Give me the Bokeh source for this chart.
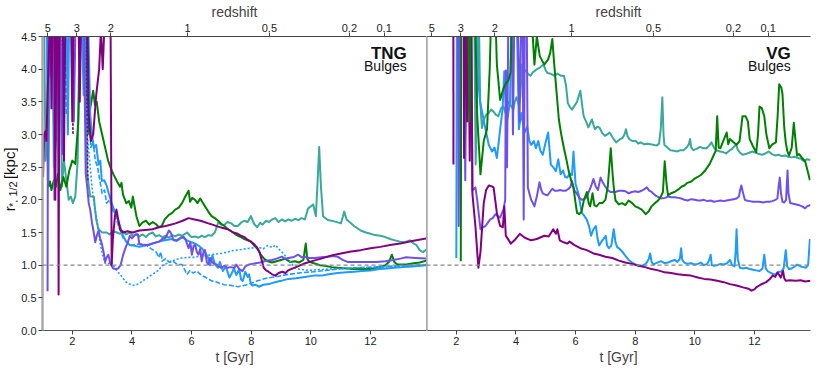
import math
import numpy as np
from bokeh.plotting import figure
from bokeh.models import Range1d, LinearAxis, FixedTicker, Span, Label, PrintfTickFormatter
from bokeh.core.properties import value
from bokeh.layouts import row
from bokeh.embed import file_html
from bokeh.resources import INLINE

# ---------------- data (t [Gyr], r*,1/2 [kpc]) ----------------
TNG_GREEN = [(1.2,2.2),(1.25,2.28),(1.3,2.15),(1.38,2.3),(1.45,2.2),(1.52,2.4),(1.6,2.15),(1.7,2.35),(1.8,2.2),(1.9,2.45),(2.0,2.6),(2.1,2.55),(2.2,3.2),(2.3,5.0),(2.45,5.0),(2.52,3.0),(2.6,3.4),(2.7,3.67),(2.76,3.45),(2.82,3.5),(2.9,3.2),(3.0,3.0),(3.1,2.8),(3.2,2.6),(3.32,2.45),(3.38,2.39),(3.5,2.28),(3.6,2.2),(3.65,2.26),(3.7,2.08),(3.81,1.95),(3.9,1.98),(3.98,1.88),(4.03,2.05),(4.09,1.9),(4.15,1.75),(4.25,1.6),(4.35,1.65),(4.47,1.68),(4.58,1.62),(4.7,1.66),(4.8,1.63),(4.9,1.58),(5.0,1.6),(5.1,1.7),(5.24,1.77),(5.35,1.8),(5.45,1.85),(5.57,1.88),(5.68,1.95),(5.79,2.05),(5.9,2.14),(5.95,1.97),(6.02,2.03),(6.12,2.0),(6.2,1.95),(6.29,2.02),(6.37,1.96),(6.45,1.9),(6.56,1.82),(6.67,1.75),(6.78,1.72),(6.89,1.68),(7.0,1.63),(7.1,1.6),(7.22,1.55),(7.33,1.52),(7.45,1.48),(7.55,1.45),(7.66,1.43),(7.77,1.4),(7.88,1.38),(7.99,1.36),(8.1,1.3),(8.21,1.25),(8.32,1.16),(8.43,1.1),(8.55,1.06),(8.7,1.04),(8.85,1.06),(9.0,1.08),(9.14,1.1),(9.3,1.05),(9.47,1.06),(9.6,1.04),(9.75,1.08),(9.83,1.33),(9.88,1.1),(9.95,1.05),(10.1,1.03),(10.3,1.0),(10.46,0.99),(10.7,0.97),(10.9,0.96),(11.2,0.95),(11.45,0.94),(11.7,0.94),(12.0,0.94),(12.3,0.97),(12.5,1.0),(12.62,1.05),(12.72,1.16),(12.8,1.05),(12.9,1.01),(13.2,1.01),(13.45,1.03),(13.65,1.04),(13.88,1.07)]

TNG_TEAL = [(1.05,5.0),(1.1,2.6),(1.15,3.1),(1.2,2.2),(1.25,5.0),(1.32,5.0),(1.38,2.5),(1.45,2.9),(1.52,5.0),(1.58,5.0),(1.65,2.2),(1.72,2.6),(1.8,2.3),(1.88,2.0),(1.95,2.05),(2.02,1.95),(2.1,2.05),(2.18,2.6),(2.25,5.0),(2.42,5.0),(2.5,2.4),(2.6,2.05),(2.72,2.05),(2.8,1.7),(2.88,1.55),(3.0,1.5),(3.15,1.5),(3.25,1.47),(3.37,1.52),(3.5,1.5),(3.6,1.48),(3.7,1.52),(3.8,1.47),(3.93,1.5),(4.03,1.45),(4.15,1.48),(4.25,1.44),(4.36,1.47),(4.47,1.43),(4.58,1.48),(4.69,1.5),(4.8,1.44),(4.91,1.46),(5.02,1.43),(5.13,1.45),(5.24,1.42),(5.35,1.46),(5.46,1.44),(5.57,1.47),(5.68,1.45),(5.78,1.48),(5.85,1.5),(5.95,1.45),(6.01,1.43),(6.12,1.44),(6.23,1.42),(6.34,1.45),(6.45,1.43),(6.56,1.46),(6.67,1.45),(6.78,1.5),(6.89,1.65),(7.0,1.62),(7.11,1.62),(7.2,1.66),(7.33,1.64),(7.44,1.6),(7.55,1.6),(7.66,1.65),(7.77,1.68),(7.88,1.66),(7.99,1.75),(8.1,1.63),(8.2,1.58),(8.3,1.65),(8.38,1.62),(8.5,1.68),(8.6,1.66),(8.7,1.7),(8.81,1.72),(8.92,1.66),(9.03,1.7),(9.14,1.67),(9.25,1.7),(9.36,1.68),(9.47,1.71),(9.58,1.69),(9.69,1.72),(9.8,1.7),(9.91,1.87),(10.0,1.9),(10.08,1.93),(10.17,1.75),(10.23,2.3),(10.28,2.81),(10.34,2.2),(10.41,1.75),(10.57,1.69),(10.79,1.67),(11.01,1.64),(11.08,1.75),(11.12,1.82),(11.2,1.7),(11.3,1.66),(11.45,1.6),(11.67,1.53),(11.85,1.5),(12.0,1.48),(12.15,1.46),(12.33,1.45),(12.5,1.43),(12.66,1.4),(12.82,1.38),(12.99,1.36),(13.15,1.35),(13.32,1.38),(13.45,1.33),(13.54,1.31),(13.65,1.23),(13.76,1.2),(13.88,1.24)]

TNG_PURPLE = [(1.02,2.35),(1.05,3.0),(1.1,3.05),(1.13,2.9),(1.17,3.6),(1.22,4.3),(1.27,5.0),(1.3,3.4),(1.34,5.0),(1.4,5.0),(1.43,2.0),(1.47,5.0),(1.52,5.0),(1.54,0.55),(1.57,5.0),(1.68,5.0),(1.72,2.6),(1.77,5.0),(1.95,5.0),(2.0,3.2),(2.05,5.0),(2.2,5.0),(2.25,3.5),(2.3,5.0),(2.5,5.0),(2.55,3.3),(2.62,2.9),(2.7,3.0),(2.8,3.6),(2.9,4.0),(2.96,4.6),(3.02,4.0),(3.08,4.7),(3.15,5.0),(3.28,5.0),(3.32,1.0),(3.36,1.4),(3.43,1.75),(3.48,1.85),(3.54,1.7),(3.6,1.55),(3.7,1.5),(3.85,1.52),(4.03,1.5),(4.25,1.53),(4.45,1.54),(4.69,1.55),(4.9,1.58),(5.13,1.6),(5.3,1.62),(5.46,1.64),(5.7,1.68),(5.9,1.72),(6.1,1.7),(6.3,1.68),(6.56,1.64),(6.7,1.62),(6.89,1.59),(7.05,1.57),(7.22,1.55),(7.4,1.5),(7.55,1.48),(7.66,1.45),(7.77,1.43),(7.88,1.39),(7.99,1.36),(8.1,1.32),(8.21,1.26),(8.28,1.2),(8.34,1.1),(8.42,0.96),(8.5,0.92),(8.58,0.9),(8.7,0.86),(8.81,0.84),(8.92,0.88),(9.04,0.9),(9.15,0.88),(9.24,0.92),(9.5,0.97),(9.81,1.03),(10.1,1.07),(10.35,1.1),(10.7,1.15),(11.01,1.18),(11.35,1.21),(11.67,1.23),(12.0,1.26),(12.33,1.28),(12.66,1.31),(12.99,1.33),(13.4,1.37),(13.88,1.41)]

TNG_PURPLE_DOTTED = [(1.62,5.0),(1.67,2.85),(1.72,5.0),(1.98,5.0),(2.02,3.0),(2.06,5.0),(2.45,5.0),(2.52,2.3)]

TNG_VIOLET = [(1.17,0.6),(1.19,5.0),(1.24,3.9),(1.28,5.0),(1.36,5.0),(1.4,2.0),(1.44,5.0),(1.6,5.0),(1.66,2.7),(1.71,5.0),(1.98,5.0),(2.05,3.2),(2.12,5.0),(2.38,5.0),(2.45,2.4),(2.5,2.2),(2.55,1.95),(2.6,1.85),(2.66,1.65),(2.72,1.5),(2.77,1.35),(2.82,1.45),(2.88,1.53),(2.94,1.4),(2.99,1.33),(3.05,1.2),(3.1,1.05),(3.15,1.12),(3.21,1.16),(3.28,1.02),(3.37,0.95),(3.46,0.94),(3.54,0.95),(3.62,1.0),(3.7,1.15),(3.78,1.26),(3.86,1.35),(3.93,1.45),(4.0,1.41),(4.1,1.46),(4.2,1.47),(4.25,1.32),(4.4,1.31),(4.58,1.31),(4.75,1.34),(4.91,1.36),(5.02,1.4),(5.13,1.42),(5.24,1.53),(5.3,1.5),(5.4,1.38),(5.5,1.38),(5.63,1.42),(5.74,1.43),(5.79,1.4),(5.9,1.26),(5.96,1.35),(6.01,1.16),(6.07,1.3),(6.12,1.31),(6.18,1.2),(6.23,1.16),(6.29,1.25),(6.34,1.06),(6.4,1.2),(6.45,1.23),(6.51,1.05),(6.56,1.01),(6.62,1.11),(6.7,1.04),(6.78,1.02),(6.84,1.01),(6.92,0.98),(7.0,0.96),(7.1,0.99),(7.2,0.96),(7.3,0.97),(7.44,0.96),(7.5,1.01),(7.6,0.94),(7.71,0.91),(7.8,0.98),(7.93,1.01),(8.04,1.02),(8.15,1.03),(8.3,1.04),(8.43,1.06),(8.55,1.07),(8.7,1.08),(8.85,1.1),(9.03,1.13),(9.14,1.1),(9.25,1.11),(9.4,1.12),(9.58,1.16),(9.7,1.12),(9.8,1.13),(9.95,1.11),(10.13,1.11),(10.35,1.12),(10.57,1.13),(10.75,1.14),(10.9,1.13),(11.0,1.1),(11.07,1.08),(11.23,1.05),(11.45,1.05),(11.67,1.05),(11.9,1.05),(12.2,1.05),(12.5,1.06),(12.77,1.08),(13.0,1.1),(13.2,1.12),(13.5,1.11),(13.88,1.1)]

TNG_BLUE = [(1.14,5.0),(1.18,2.3),(1.22,5.0),(1.4,5.0),(1.45,2.9),(1.5,5.0),(1.8,5.0),(1.85,3.0),(1.9,5.0),(2.3,5.0),(2.38,3.6),(2.45,5.0),(2.52,5.0),(2.6,3.3),(2.66,3.0),(2.72,2.79),(2.8,2.84),(2.88,2.54),(2.94,2.6),(2.99,2.29),(3.07,2.3),(3.15,2.22),(3.22,2.1),(3.32,1.95),(3.4,1.85),(3.48,1.75),(3.6,1.6),(3.7,1.45),(3.81,1.36),(3.93,1.31),(4.05,1.3),(4.25,1.28),(4.45,1.3),(4.65,1.33),(4.91,1.36),(5.1,1.38),(5.35,1.4),(5.5,1.37),(5.68,1.43),(5.85,1.38),(6.0,1.35),(6.12,1.33),(6.23,1.3),(6.34,1.26),(6.45,1.2),(6.56,1.11),(6.62,1.0),(6.7,1.15),(6.78,1.02),(6.89,0.96),(6.95,1.05),(7.05,0.91),(7.15,0.98),(7.27,0.81),(7.33,0.86),(7.42,0.95),(7.5,0.85),(7.6,0.94),(7.66,0.78),(7.72,0.76),(7.8,0.9),(7.88,0.82),(7.93,0.86),(7.99,0.71),(8.04,0.69),(8.15,0.7),(8.26,0.67),(8.4,0.7),(8.6,0.71),(8.8,0.74),(9.0,0.76),(9.25,0.79),(9.5,0.8),(9.8,0.82),(10.1,0.84),(10.35,0.84),(10.6,0.86),(10.9,0.88),(11.2,0.89),(11.45,0.9),(11.7,0.91),(12.0,0.92),(12.3,0.94),(12.55,0.95),(12.8,0.96),(13.1,0.97),(13.4,0.98),(13.88,1.0)]

TNG_BLUE_DASHED = [(1.75,5.0),(1.8,3.3),(1.85,5.0),(2.4,5.0),(2.48,3.1),(2.55,3.5),(2.62,2.8),(2.7,2.9),(2.77,2.6),(2.85,2.5),(2.92,2.3),(3.0,2.1),(3.08,2.15),(3.15,1.95),(3.25,2.0),(3.35,1.85),(3.43,1.77),(3.55,1.6),(3.7,1.42),(3.81,1.36),(3.98,1.3),(4.15,1.32),(4.36,1.33),(4.5,1.3),(4.65,1.25),(4.8,1.21),(4.9,1.12),(4.97,1.2),(5.02,1.06),(5.13,1.1),(5.24,1.05),(5.35,1.07),(5.46,1.03),(5.57,1.01),(5.68,1.01),(5.78,0.92),(5.85,0.86),(5.95,0.92),(6.05,0.88),(6.18,0.91),(6.34,0.84),(6.45,0.82),(6.56,0.79),(6.67,0.76),(6.8,0.75),(6.95,0.72),(7.1,0.7),(7.33,0.69),(7.55,0.67),(7.7,0.68),(7.93,0.71),(8.21,0.76),(8.5,0.8),(8.8,0.82),(9.25,0.86),(9.6,0.88),(10.1,0.9),(10.5,0.92),(10.9,0.94),(11.45,0.96),(12.0,0.97),(12.5,0.98),(13.0,0.99),(13.4,1.0),(13.88,1.01)]

TNG_BLUE_DOTTED = [(2.35,5.0),(2.42,3.6),(2.5,3.0),(2.58,2.6),(2.66,2.2),(2.74,1.9),(2.82,1.7),(2.88,1.5),(2.95,1.3),(3.02,1.15),(3.1,1.03),(3.2,1.02),(3.3,1.05),(3.37,1.0),(3.48,0.92),(3.6,0.86),(3.7,0.8),(3.81,0.74),(3.92,0.71),(4.03,0.69),(4.15,0.7),(4.25,0.72),(4.36,0.76),(4.5,0.8),(4.69,0.86),(4.86,0.91),(5.02,0.99),(5.18,1.03),(5.35,1.06),(5.5,1.09),(5.68,1.11),(5.9,1.12),(6.1,1.12),(6.3,1.14),(6.56,1.15),(6.8,1.17),(7.0,1.18),(7.2,1.2),(7.33,1.22),(7.55,1.23),(7.8,1.25),(8.0,1.26),(8.21,1.28),(8.4,1.25),(8.55,1.3),(8.7,1.27),(8.81,1.31),(8.92,1.25),(9.03,1.2),(9.15,1.14),(9.25,1.08),(9.36,1.02),(9.47,0.96),(9.6,0.94),(9.91,0.92),(10.2,0.93),(10.57,0.94),(11.0,0.95),(11.5,0.96),(12.0,0.96),(12.5,0.97),(13.0,0.98),(13.4,0.99),(13.88,1.0)]

VG_GREEN = [(2.15,1.06),(2.17,5.0),(2.4,5.0),(2.44,3.2),(2.48,5.0),(2.62,5.0),(2.7,3.3),(2.81,2.39),(2.92,2.9),(3.03,3.08),(3.12,4.0),(3.18,5.0),(3.3,5.0),(3.36,4.07),(3.47,3.53),(3.58,3.7),(3.66,3.78),(3.74,3.82),(3.82,3.95),(3.88,5.0),(4.5,5.0),(4.62,4.07),(4.7,4.5),(4.8,4.2),(4.95,4.07),(5.08,4.15),(5.15,4.25),(5.22,4.46),(5.28,4.1),(5.33,3.82),(5.44,3.23),(5.52,3.0),(5.61,2.79),(5.7,2.6),(5.77,2.44),(5.85,2.3),(5.93,2.19),(6.0,1.95),(6.05,1.8),(6.12,1.78),(6.2,1.82),(6.28,2.0),(6.38,2.12),(6.44,1.95),(6.49,1.9),(6.57,2.1),(6.63,1.92),(6.7,1.9),(6.8,1.95),(6.9,1.95),(7.0,2.0),(7.08,2.2),(7.18,2.79),(7.25,2.35),(7.29,2.15),(7.34,1.99),(7.45,1.93),(7.56,1.95),(7.67,1.92),(7.78,1.99),(7.9,1.95),(8.0,1.9),(8.1,1.88),(8.22,1.85),(8.35,1.78),(8.45,1.82),(8.55,1.9),(8.66,1.95),(8.77,1.99),(8.86,2.05),(8.93,2.12),(8.99,2.59),(9.05,2.25),(9.1,2.07),(9.2,2.1),(9.32,2.12),(9.45,2.16),(9.55,2.2),(9.65,2.22),(9.75,2.26),(9.88,2.28),(9.98,2.32),(10.1,2.35),(10.2,2.38),(10.35,2.45),(10.5,2.55),(10.64,2.69),(10.7,2.75),(10.75,3.28),(10.8,2.8),(10.86,2.79),(10.95,2.9),(11.07,3.03),(11.12,2.85),(11.18,2.93),(11.3,2.88),(11.4,2.84),(11.5,2.9),(11.6,3.28),(11.7,3.28),(11.78,3.2),(11.84,2.93),(11.95,2.82),(12.06,2.73),(12.12,3.0),(12.17,3.43),(12.25,3.4),(12.33,3.28),(12.4,3.0),(12.5,2.79),(12.6,2.85),(12.72,2.88),(12.78,3.3),(12.83,3.77),(12.9,3.72),(12.94,3.62),(13.0,3.1),(13.05,2.88),(13.1,2.75),(13.16,2.68),(13.25,2.8),(13.32,3.18),(13.38,2.9),(13.43,2.68),(13.5,2.7),(13.6,2.64),(13.7,2.59),(13.78,2.45),(13.86,2.3)]

VG_TEAL = [(2.6,5.0),(2.65,2.54),(2.7,3.6),(2.75,5.0),(2.8,3.5),(2.86,3.1),(2.92,3.23),(3.0,3.3),(3.09,3.33),(3.17,3.38),(3.25,3.35),(3.33,3.3),(3.41,3.28),(3.5,3.4),(3.58,3.43),(3.66,3.32),(3.74,3.5),(3.82,3.45),(3.91,3.38),(3.96,3.5),(4.02,3.57),(4.1,3.45),(4.15,3.6),(4.2,4.07),(4.27,4.0),(4.34,3.97),(4.42,3.92),(4.49,3.9),(4.56,3.95),(4.62,3.97),(4.7,4.0),(4.79,4.02),(4.86,4.05),(4.93,4.07),(5.0,3.98),(5.06,3.94),(5.16,3.93),(5.28,3.9),(5.4,3.93),(5.5,3.9),(5.61,3.9),(5.68,3.75),(5.74,3.48),(5.81,3.42),(5.88,3.38),(5.95,3.43),(6.05,3.5),(6.1,3.58),(6.16,3.67),(6.22,3.45),(6.27,3.28),(6.35,3.2),(6.43,3.11),(6.5,3.18),(6.55,3.23),(6.6,3.15),(6.65,3.08),(6.73,3.12),(6.81,3.1),(6.9,3.02),(6.98,2.98),(7.06,3.0),(7.14,3.03),(7.25,2.95),(7.36,2.88),(7.47,2.92),(7.58,2.95),(7.64,3.0),(7.69,3.08),(7.74,2.98),(7.8,2.93),(7.9,2.9),(8.02,2.9),(8.1,2.86),(8.19,2.88),(8.3,2.85),(8.41,2.86),(8.52,2.85),(8.63,2.84),(8.72,2.83),(8.8,2.86),(8.86,3.1),(8.91,3.57),(8.95,3.0),(8.98,2.84),(9.08,2.8),(9.18,2.76),(9.3,2.75),(9.4,2.74),(9.52,2.76),(9.62,2.76),(9.72,2.8),(9.8,2.85),(9.84,2.93),(9.88,2.8),(9.95,2.76),(10.06,2.78),(10.17,2.81),(10.28,2.79),(10.39,2.79),(10.48,2.83),(10.56,2.88),(10.64,2.8),(10.72,2.76),(10.85,2.74),(10.95,2.73),(11.05,2.71),(11.15,2.75),(11.25,2.78),(11.32,2.82),(11.38,2.84),(11.45,2.76),(11.52,2.72),(11.6,2.69),(11.7,2.7),(11.82,2.72),(11.93,2.74),(12.05,2.72),(12.15,2.7),(12.26,2.69),(12.37,2.71),(12.48,2.74),(12.58,2.7),(12.7,2.68),(12.81,2.69),(12.92,2.67),(13.03,2.68),(13.14,2.66),(13.25,2.65),(13.35,2.66),(13.46,2.64),(13.56,2.63),(13.62,2.6),(13.68,2.59),(13.75,2.62),(13.88,2.61)]

VG_BLUE = [(2.0,1.11),(2.02,5.0),(2.1,5.0),(2.12,2.8),(2.15,5.0),(2.25,5.0),(2.3,3.0),(2.35,5.0),(2.62,5.0),(2.72,3.9),(2.8,3.5),(2.87,3.33),(2.98,3.08),(3.09,2.84),(3.2,2.74),(3.28,2.8),(3.36,2.64),(3.47,3.08),(3.55,3.38),(3.61,3.97),(3.69,3.18),(3.8,3.48),(3.85,5.0),(4.02,5.0),(4.1,3.08),(4.18,3.33),(4.29,3.03),(4.38,3.12),(4.45,2.9),(4.51,2.84),(4.6,2.9),(4.67,2.79),(4.75,2.9),(4.82,2.75),(4.9,2.69),(4.98,2.85),(5.08,3.03),(5.17,2.54),(5.25,2.5),(5.34,2.44),(5.42,2.62),(5.5,2.39),(5.58,2.45),(5.65,2.35),(5.72,2.34),(5.8,2.4),(5.88,2.38),(5.93,2.74),(6.0,2.24),(6.1,2.09),(6.15,1.95),(6.21,1.8),(6.3,1.75),(6.37,1.7),(6.45,1.6),(6.52,1.45),(6.6,1.55),(6.68,1.6),(6.74,1.4),(6.79,1.3),(6.9,1.38),(7.01,1.45),(7.06,1.3),(7.12,1.26),(7.2,1.3),(7.28,1.55),(7.34,1.35),(7.39,1.28),(7.47,1.25),(7.56,1.21),(7.66,1.15),(7.78,1.08),(7.9,1.04),(8.0,1.01),(8.1,1.0),(8.22,0.99),(8.32,1.01),(8.39,1.04),(8.46,1.1),(8.5,1.18),(8.55,1.05),(8.61,1.01),(8.7,1.03),(8.8,1.05),(8.88,1.06),(8.98,1.03),(9.1,1.04),(9.2,1.06),(9.32,1.08),(9.42,1.05),(9.5,1.1),(9.54,1.26),(9.58,1.08),(9.65,1.04),(9.75,1.02),(9.88,1.03),(9.98,1.01),(10.1,1.02),(10.2,1.04),(10.3,1.0),(10.42,1.02),(10.5,1.1),(10.53,1.16),(10.57,1.0),(10.64,0.99),(10.75,1.0),(10.86,1.02),(10.97,1.01),(11.08,1.03),(11.18,1.08),(11.25,1.0),(11.33,0.98),(11.37,1.2),(11.4,1.55),(11.44,1.1),(11.51,0.96),(11.62,0.95),(11.73,0.96),(11.84,0.94),(11.95,0.93),(12.06,0.92),(12.17,0.91),(12.27,0.95),(12.33,1.16),(12.38,0.95),(12.44,0.91),(12.55,0.88),(12.65,0.86),(12.72,0.86),(12.82,0.9),(12.9,0.9),(12.98,0.95),(13.05,1.23),(13.1,0.98),(13.16,0.94),(13.25,0.95),(13.35,0.98),(13.43,1.01),(13.55,0.98),(13.65,0.97),(13.72,0.96),(13.8,1.0),(13.86,1.4)]

VG_VIOLET = [(2.05,5.0),(2.08,1.6),(2.12,5.0),(2.25,5.0),(2.3,2.3),(2.35,5.0),(2.5,5.0),(2.54,2.14),(2.64,2.19),(2.7,2.0),(2.81,1.55),(2.9,1.58),(2.98,1.6),(3.06,1.65),(3.14,1.7),(3.22,1.72),(3.31,1.78),(3.39,1.75),(3.47,1.73),(3.58,1.85),(3.64,2.0),(3.66,3.98),(3.7,2.5),(3.75,5.0),(3.85,5.0),(3.9,3.0),(3.95,5.0),(4.05,5.0),(4.12,3.2),(4.18,5.0),(4.22,5.0),(4.26,1.7),(4.3,5.0),(4.36,5.0),(4.4,2.19),(4.45,2.1),(4.51,2.0),(4.57,1.95),(4.62,1.9),(4.7,2.05),(4.79,2.27),(4.85,2.15),(4.9,2.1),(4.98,2.08),(5.06,2.07),(5.14,2.12),(5.22,2.17),(5.3,2.14),(5.39,2.14),(5.48,2.15),(5.58,2.14),(5.67,2.14),(5.77,2.17),(5.83,2.2),(5.88,2.29),(5.95,2.15),(6.05,2.09),(6.13,2.03),(6.21,2.0),(6.3,2.01),(6.38,2.05),(6.46,2.14),(6.53,2.22),(6.6,2.32),(6.68,2.2),(6.75,2.15),(6.84,2.34),(6.92,2.26),(7.0,2.2),(7.08,2.15),(7.17,2.12),(7.23,2.12),(7.33,2.12),(7.45,2.14),(7.56,2.14),(7.68,2.13),(7.78,2.1),(7.89,2.12),(8.0,2.13),(8.1,2.12),(8.22,2.14),(8.3,2.16),(8.39,2.19),(8.47,2.14),(8.55,2.12),(8.7,2.06),(8.88,2.02),(9.0,2.03),(9.1,2.05),(9.2,2.04),(9.32,2.04),(9.45,2.03),(9.55,2.02),(9.65,2.0),(9.76,1.99),(9.88,2.01),(10.0,2.0),(10.1,1.99),(10.2,1.99),(10.3,2.0),(10.42,1.98),(10.53,1.99),(10.64,1.97),(10.75,1.98),(10.86,1.99),(10.97,1.98),(11.07,1.99),(11.2,2.0),(11.3,2.01),(11.4,2.02),(11.48,2.05),(11.52,2.15),(11.56,2.22),(11.62,2.1),(11.68,2.0),(11.73,1.99),(11.84,1.98),(11.95,1.97),(12.06,1.97),(12.17,1.97),(12.3,1.96),(12.4,1.97),(12.5,1.97),(12.6,1.98),(12.7,2.0),(12.77,2.02),(12.81,2.2),(12.85,2.34),(12.89,2.1),(12.94,1.97),(13.0,1.96),(13.06,2.0),(13.11,2.45),(13.14,2.1),(13.2,1.95),(13.3,1.94),(13.4,1.93),(13.49,1.92),(13.6,1.9),(13.7,1.87),(13.76,1.9),(13.88,1.92)]

VG_PURPLE_EARLY = [(1.9,5.0),(1.905,2.54)]
VG_PURPLE = [(2.25,5.0),(2.26,2.64),(2.3,5.0),(2.36,3.2),(2.4,5.0),(2.45,2.6),(2.5,5.0),(2.54,2.09),(2.64,1.6),(2.74,0.96),(2.81,1.2),(2.92,1.95),(3.0,2.15),(3.09,2.22),(3.17,2.21),(3.25,2.19),(3.36,1.8),(3.47,1.6),(3.56,1.58),(3.61,1.9),(3.66,1.45),(3.72,1.41),(3.83,1.33),(3.95,1.38),(4.13,1.48),(4.3,1.42),(4.51,1.38),(4.7,1.4),(4.95,1.45),(5.1,1.44),(5.25,1.55),(5.34,1.48),(5.39,1.55),(5.47,1.38),(5.6,1.35),(5.72,1.33),(5.8,1.36),(5.95,1.31),(6.16,1.26),(6.38,1.23),(6.6,1.18),(6.79,1.16),(7.0,1.13),(7.23,1.11),(7.45,1.07),(7.67,1.04),(7.9,1.02),(8.11,0.99),(8.33,0.97),(8.55,0.94),(8.77,0.92),(8.99,0.89),(9.2,0.88),(9.43,0.86),(9.65,0.85),(9.87,0.84),(10.1,0.81),(10.31,0.79),(10.53,0.78),(10.75,0.76),(10.97,0.74),(11.18,0.71),(11.4,0.69),(11.62,0.66),(11.8,0.64),(11.9,0.61),(12.0,0.63),(12.06,0.66),(12.2,0.7),(12.39,0.74),(12.5,0.78),(12.61,0.84),(12.7,0.82),(12.77,0.89),(12.83,0.85),(12.88,0.81),(12.96,0.91),(13.0,0.8),(13.05,0.76),(13.2,0.77),(13.38,0.76),(13.55,0.77),(13.7,0.75),(13.88,0.76)]

X_TICKS = [2, 4, 6, 8, 10, 12]
Y_TICKS = [0.0, 0.5, 1.0, 1.5, 2.0, 2.5, 3.0, 3.5, 4.0, 4.5]
Z_TICKS = [5, 3, 2, 1, 0.5, 0.2, 0.1]
Z_LABELS = ["5", "3", "2", "1", "0.5", "0.2", "0.1"]
T_RANGE = (1.0, 13.88)
R_RANGE = (0.0, 4.5)
REF_LEVEL = 1.0
YLABEL_PARTS = ["r", "*, 1/2", "[kpc]"]

# colours
C_GREEN = "#008000"
C_TEAL = "#3aa89a"
C_BLUE = "#1e9bff"
C_VIOLET = "#6f50ec"
C_PURPLE = "#800080"

FONT = "Liberation Sans"
FW, FH = 384, 294
TOP_BORDER = 29          # height taken by the redshift axis above the frame
LAB_W, LAB_H = 18, 359   # strip that carries the y-axis title


def age_gyr(z, h0=67.74, om=0.3089):
    ol = 1.0 - om
    t_h = 977.8 / h0
    return 2.0 * t_h / (3.0 * math.sqrt(ol)) * math.asinh(math.sqrt(ol / om) * (1.0 + z) ** -1.5)


def xy(pairs):
    a = np.array(pairs, dtype=float)
    return a[:, 0], a[:, 1]


def make_panel(first):
    p = figure(frame_width=FW, frame_height=FH,
               x_range=Range1d(*T_RANGE), y_range=Range1d(*R_RANGE),
               output_backend="svg", toolbar_location=None,
               min_border_top=0, min_border_bottom=0,
               min_border_left=18 if first else 0, min_border_right=0 if first else 2)
    p.outline_line_color = None
    p.xgrid.visible = False
    p.ygrid.visible = False
    p.background_fill_color = "white"
    p.border_fill_color = "white"

    # bottom axis
    xa = p.xaxis[0]
    xa.ticker = FixedTicker(ticks=X_TICKS)
    xa.axis_label = "t [Gyr]"
    xa.axis_label_text_font = FONT
    xa.axis_label_text_font_style = "normal"
    xa.axis_label_text_font_size = "14px"
    xa.axis_label_standoff = 1
    xa.major_label_text_font = FONT
    xa.major_label_text_font_size = "11px"
    xa.major_label_text_color = "#222222"
    xa.major_label_standoff = 2
    xa.axis_line_color = "#555555"
    xa.major_tick_line_color = "#444444"
    xa.major_tick_out = 4
    xa.major_tick_in = 0
    xa.minor_tick_line_color = None

    # top axis (redshift)
    ages = [round(age_gyr(z), 4) for z in Z_TICKS]
    top = LinearAxis(ticker=FixedTicker(ticks=ages),
                     major_label_overrides={a: l for a, l in zip(ages, Z_LABELS)},
                     axis_label="redshift")
    top.axis_label_text_font = FONT
    top.axis_label_text_font_style = "normal"
    top.axis_label_text_font_size = "14px"
    top.axis_label_standoff = 1
    top.major_label_text_font = FONT
    top.major_label_text_font_size = "11px"
    top.major_label_text_color = "#222222"
    top.major_label_standoff = 1
    top.axis_line_color = "#444444"
    top.major_tick_line_color = "#444444"
    top.major_tick_out = 4
    top.major_tick_in = 0
    top.minor_tick_line_color = None
    p.add_layout(top, "above")

    ya = p.yaxis[0]
    ya.axis_line_color = "#aaaaaa"
    ya.axis_line_width = 2.5
    ya.minor_tick_line_color = None
    if first:
        ya.ticker = FixedTicker(ticks=Y_TICKS)
        ya.formatter = PrintfTickFormatter(format="%.1f")
        ya.major_label_text_font = FONT
        ya.major_label_text_font_size = "11px"
        ya.major_label_text_color = "#222222"
        ya.major_label_standoff = 2
        ya.major_tick_line_color = "#444444"
        ya.major_tick_out = 4
        ya.major_tick_in = 0
    else:
        # divider spine only: no ticks, no labels
        ya.ticker = FixedTicker(ticks=[])
        ya.major_label_standoff = 0
        ya.major_tick_out = 0
        ya.major_tick_in = 0

    p.add_layout(Span(location=REF_LEVEL, dimension="width", line_color="#888888",
                      line_width=1.3, line_dash="4 3"))
    return p


def draw(p, pairs, color, width=2.0, dash="solid"):
    t, r = xy(pairs)
    p.line(t, r, line_color=color, line_width=width, line_dash=dash, line_join="round")


def title(p, name):
    p.add_layout(Label(x=13.22, y=4.09, text=name, text_align="right", text_font=FONT,
                       text_font_size="17px", text_font_style="bold", text_color="#111111"))
    p.add_layout(Label(x=13.22, y=3.92, text="Bulges", text_align="right", text_font=FONT,
                       text_font_size="14px", text_color="#111111"))


# ---------------- y-axis title strip: r_{*,1/2} [kpc] ----------------
p0 = figure(width=LAB_W, height=LAB_H, x_range=Range1d(0, LAB_W), y_range=Range1d(0, LAB_H),
            output_backend="svg", toolbar_location=None, min_border=0)
p0.axis.visible = False
p0.grid.visible = False
p0.outline_line_color = None
y_mid = LAB_H - (TOP_BORDER + FH / 2)
y_start = y_mid - 43.5
txt_kw = dict(angle=math.pi / 2, text_font=value(FONT), text_color="#111111",
              text_align="left", text_baseline="middle")
p0.text(x=[9], y=[y_start], text=[YLABEL_PARTS[0]], text_font_size="15px", **txt_kw)
p0.text(x=[12], y=[y_start + 5.5], text=[YLABEL_PARTS[1]], text_font_size="11px", **txt_kw)
p0.text(x=[9], y=[y_start + 40.5], text=[YLABEL_PARTS[2]], text_font_size="15px", **txt_kw)

# ---------------- TNG panel ----------------
p1 = make_panel(True)
draw(p1, TNG_TEAL, C_TEAL)
draw(p1, TNG_GREEN, C_GREEN)
draw(p1, TNG_BLUE_DOTTED, C_BLUE, 1.6, "2 2")
draw(p1, TNG_BLUE_DASHED, C_BLUE, 1.6, "5 2")
draw(p1, TNG_PURPLE_DOTTED, C_PURPLE, 1.6, "2 2")
draw(p1, TNG_BLUE, C_BLUE)
draw(p1, TNG_VIOLET, C_VIOLET)
draw(p1, TNG_PURPLE, C_PURPLE)
title(p1, "TNG")

# ---------------- VG panel ----------------
p2 = make_panel(False)
draw(p2, VG_TEAL, C_TEAL)
draw(p2, VG_BLUE, C_BLUE)
draw(p2, VG_VIOLET, C_VIOLET)
draw(p2, VG_PURPLE_EARLY, C_PURPLE)
draw(p2, VG_PURPLE, C_PURPLE)
draw(p2, VG_GREEN, C_GREEN)
title(p2, "VG")

layout = row(p0, p1, p2)
open("out.html", "w").write(file_html(layout, INLINE))
